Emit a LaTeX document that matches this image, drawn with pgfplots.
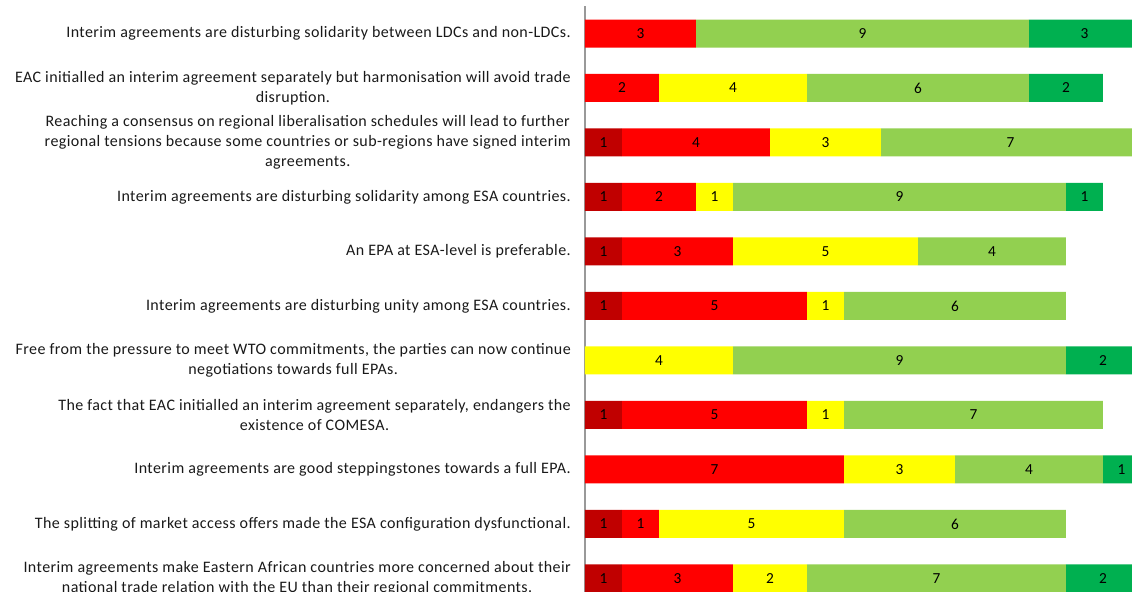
\documentclass[border=0pt]{standalone}
\usepackage{pgfplots}
\pgfplotsset{compat=1.18}
\usepackage{pgfplotstable}
\usepackage{fontspec}
\setmainfont{Carlito}
\newfontfamily\lblfont[LetterSpace=2.6]{Carlito}

\definecolor{sdis}{RGB}{192,0,0}
\definecolor{dis}{RGB}{255,0,0}
\definecolor{neu}{RGB}{255,255,0}
\definecolor{agr}{RGB}{146,208,80}
\definecolor{sagr}{RGB}{0,176,80}

% responses per statement: strongly disagree, disagree, neutral, agree, strongly agree
\pgfplotstableread{
y  sd d n a sa
1  0  3 0 9 3
2  0  2 4 6 2
3  1  4 3 7 0
4  1  2 1 9 1
5  1  3 5 4 0
6  1  5 1 6 0
7  0  0 4 9 2
8  1  5 1 7 0
9  0  7 3 4 1
10 1  1 5 6 0
11 1  3 2 7 2
}\data

\pgfplotsset{
  common/.style={
    scale only axis,
    width=410.25pt, height=439.3pt,
    xmin=0, xmax=14.784,
    ymin=0.5, ymax=11.248,
    y dir=reverse,
  },
  seglabel/.style={
    draw=none, mark=none,
    point meta=explicit symbolic,
    nodes near coords={\ifnum\pgfplotspointmeta=0 \else\pgfplotspointmeta\fi},
    every node near coord/.append style={anchor=center, inner sep=0pt,
      font=\fontsize{11.5}{13}\selectfont, text=black},
  },
}

\begin{document}
\begin{tikzpicture}
\begin{axis}[
  common,
  name=ax,
  xbar stacked,
  bar width=21pt,
  axis lines*=left,
  x axis line style={draw=none},
  y axis line style={draw=black!40, line width=0.9pt},
  xtick=\empty,
  ytick={1,...,11},
  major tick length=0pt,
  yticklabel shift=10.5pt,
  yticklabel style={inner sep=0pt, align=center, text=black!90,
    font=\lblfont\fontsize{12}{15}\selectfont},
  yticklabels={
    {Interim agreements are disturbing solidarity between LDCs and non-LDCs.},
    {EAC initialled an interim agreement separately but harmonisation will avoid trade\\disruption.},
    {Reaching a consensus on regional liberalisation schedules will lead to further\\regional tensions because some countries or sub-regions have signed interim\\agreements.},
    {Interim agreements are disturbing solidarity among ESA countries.},
    {An EPA at ESA-level is preferable.},
    {Interim agreements are disturbing unity among ESA countries.},
    {Free from the pressure to meet WTO commitments, the parties can now continue\\negotiations towards full EPAs.},
    {The fact that EAC initialled an interim agreement separately, endangers the\\existence of COMESA.},
    {Interim agreements are good steppingstones towards a full EPA.},
    {The splitting of market access offers made the ESA configuration dysfunctional.},
    {Interim agreements make Eastern African countries more concerned about their\\national trade relation with the EU than their regional commitments.},
  },
]
\addplot[fill=sdis, draw=none] table[x=sd, y=y] {\data};
\addplot[fill=dis,  draw=none] table[x=d,  y=y] {\data};
\addplot[fill=neu,  draw=none] table[x=n,  y=y] {\data};
\addplot[fill=agr,  draw=none] table[x=a,  y=y] {\data};
\addplot[fill=sagr, draw=none] table[x=sa, y=y] {\data};
\end{axis}

% value labels, centred in each segment
\begin{axis}[common, hide axis, clip=false]
\addplot[seglabel] table[x expr={\thisrow{sd}/2}, y=y, meta=sd] {\data};
\addplot[seglabel] table[x expr={\thisrow{sd}+\thisrow{d}/2}, y=y, meta=d] {\data};
\addplot[seglabel] table[x expr={\thisrow{sd}+\thisrow{d}+\thisrow{n}/2}, y=y, meta=n] {\data};
\addplot[seglabel] table[x expr={\thisrow{sd}+\thisrow{d}+\thisrow{n}+\thisrow{a}/2}, y=y, meta=a] {\data};
\addplot[seglabel] table[x expr={\thisrow{sd}+\thisrow{d}+\thisrow{n}+\thisrow{a}+\thisrow{sa}/2}, y=y, meta=sa] {\data};
\end{axis}

\pgfresetboundingbox
\path[use as bounding box] ([xshift=-438.75pt]ax.south west) rectangle ([yshift=4.69pt]ax.north east);
\end{tikzpicture}
\end{document}
